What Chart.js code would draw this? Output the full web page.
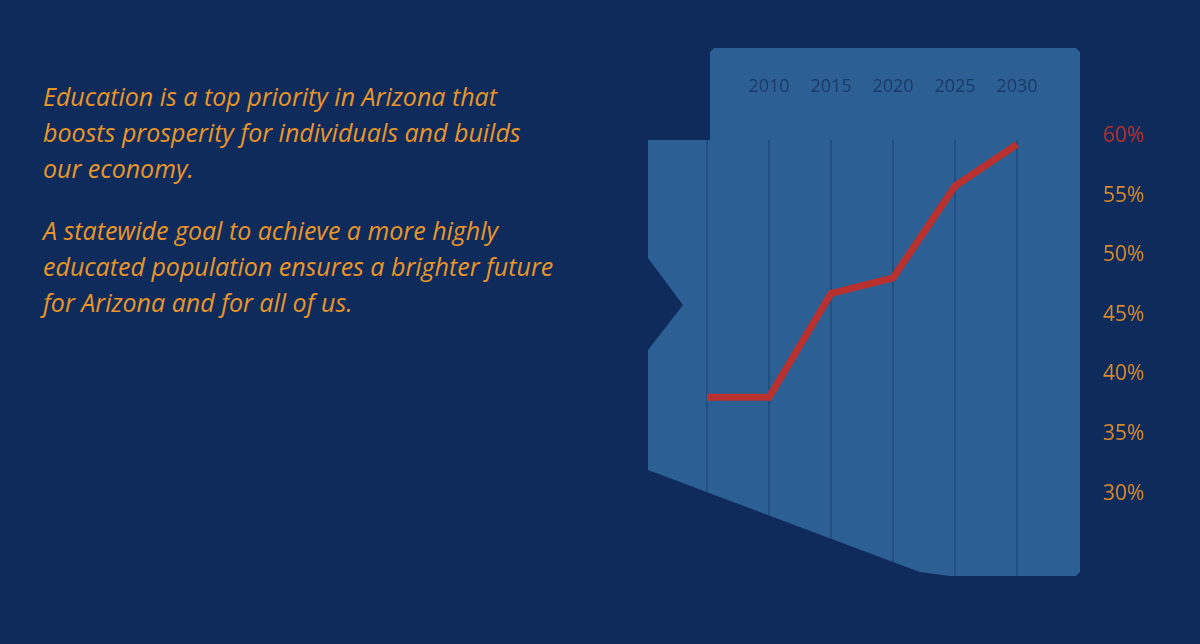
<!DOCTYPE html>
<html>
<head>
<meta charset="utf-8">
<script src="https://cdn.jsdelivr.net/npm/chart.js@4"></script>
<style>
  html, body { margin: 0; width: 1200px; height: 644px; background: #0f2b5b; overflow: hidden; }
  #text { position: absolute; left: 43px; top: 78px; width: 520px; color: #e8962a;
    font-family: "Open Sans", sans-serif; font-style: italic; font-size: 25px; line-height: 36px; }
  #text p { margin: 0 0 26px 0; }
  #wrap { position: absolute; left: 600px; top: 0; width: 600px; height: 644px; }
</style>
</head>
<body>
<div id="text">
  <p>Education is a top priority in Arizona that boosts prosperity for individuals and builds our economy.</p>
  <p>A statewide goal to achieve a more highly educated population ensures a brighter future for Arizona and for all of us.</p>
</div>
<div id="wrap"><canvas id="c" width="600" height="644"></canvas></div>
<script>
  var years = ["", "2010", "2015", "2020", "2025", "2030"];
  var attainment = [38.1, 38.1, 46.8, 48.1, 55.8, 59.3];

  var OX = 600;
  function shapePath(ctx) {
    var p = [[648,140],[710,140],[710,52],[714,48],[1076,48],[1080,52],[1080,572],[1076,576],
      [950,576],[920,572],[893,562],[648,470],[648,350],[683,305],[648,258],[648,144]];
    ctx.beginPath();
    p.forEach(function (q, i) {
      if (i === 0) ctx.moveTo(q[0] - OX, q[1]); else ctx.lineTo(q[0] - OX, q[1]);
    });
    ctx.closePath();
  }

  var shapePlugin = {
    id: "azShape",
    beforeDraw: function (chart) {
      var ctx = chart.ctx;
      ctx.save();
      shapePath(ctx);
      ctx.fillStyle = "#2c5f93";
      ctx.fill();
      ctx.clip();
      var xs = chart.scales.x;
      ctx.strokeStyle = "#1d4577";
      ctx.lineWidth = 1.2;
      years.forEach(function (y, i) {
        var px = xs.getPixelForValue(i);
        ctx.beginPath();
        ctx.moveTo(px, 140);
        ctx.lineTo(px, 600);
        ctx.stroke();
      });
      ctx.restore();
    }
  };

  new Chart(document.getElementById("c"), {
    type: "line",
    data: {
      labels: years,
      datasets: [{
        data: attainment,
        borderColor: "#b8312f",
        borderWidth: 7,
        pointRadius: 0,
        tension: 0,
        borderCapStyle: "butt",
        clip: false
      }]
    },
    options: {
      responsive: false,
      animation: false,
      layout: { padding: { left: 107, bottom: 74, top: 0, right: 0 } },
      plugins: { legend: { display: false }, tooltip: { enabled: false } },
      scales: {
        x: {
          position: "top",
          offset: false,
          grid: { display: false },
          border: { display: false },
          ticks: { color: "#1b3a68", padding: 30, font: { family: "Open Sans", size: 18 }, maxRotation: 0, autoSkip: false },
          afterFit: function (s) { s.height = 136; }
        },
        y: {
          position: "right",
          min: 25,
          max: 60,
          grid: { display: false },
          border: { display: false },
          ticks: {
            stepSize: 5,
            padding: 78,
            font: { family: "Open Sans", size: 21 },
            color: function (c) { return c.tick.value === 60 ? "#b8312f" : "#d98b2b"; },
            callback: function (v) { return v < 30 ? "" : v + "%"; }
          },
          afterFit: function (s) { s.width = 183; }
        }
      }
    },
    plugins: [shapePlugin]
  });
</script>
</body>
</html>
